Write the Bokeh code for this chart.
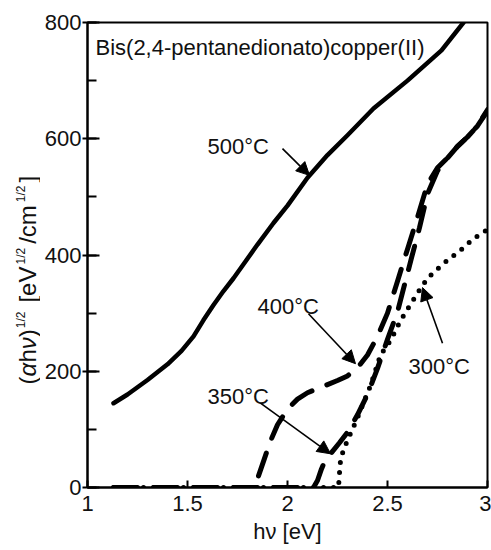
import math
from bokeh.plotting import figure
from bokeh.layouts import row
from bokeh.models import (Label, Arrow, NormalHead, SingleIntervalTicker,
                          FixedTicker, NumeralTickFormatter, Range1d)
from bokeh.embed import file_html
from bokeh.resources import INLINE

# ---------------- data ----------------
hv_500 = [1.13, 1.20, 1.30, 1.40, 1.47, 1.53, 1.58, 1.63, 1.68, 1.73, 1.78,
          1.85, 1.93, 2.00, 2.10, 2.20, 2.30, 2.43, 2.60, 2.77, 2.88]
ah_500 = [145, 160, 185, 212, 235, 260, 288, 314, 338, 360, 384,
          418, 455, 485, 533, 572, 606, 652, 700, 752, 800]

hv_400 = [1.855, 1.88, 1.915, 1.95, 2.00, 2.05, 2.10, 2.15, 2.20, 2.25, 2.30,
          2.35, 2.40, 2.45, 2.50, 2.55, 2.60, 2.65, 2.70, 2.75, 2.80, 2.85,
          2.90, 2.95, 3.00]
ah_400 = [20, 45, 80, 108, 135, 152, 163, 170, 177, 184, 192,
          206, 228, 260, 300, 355, 410, 465, 522, 550, 567, 587,
          603, 622, 650]

hv_350 = [1.13, 2.13, 2.15, 2.17, 2.19, 2.22, 2.26, 2.30, 2.35, 2.40, 2.45,
          2.50, 2.55, 2.58, 2.62, 2.66, 2.70, 2.75, 2.80, 2.85, 2.90, 2.95, 3.00]
ah_350 = [0, 0, 12, 32, 48, 60, 77, 95, 125, 160, 205,
          255, 302, 342, 395, 447, 505, 545, 567, 587, 603, 622, 648]

hv_300 = [1.13, 2.255, 2.26, 2.265, 2.28, 2.30, 2.35, 2.40, 2.415, 2.465, 2.515,
          2.565, 2.615, 2.655, 2.70, 2.75, 2.80, 2.865, 2.93, 3.00]
ah_300 = [0, 0, 25, 46, 65, 81, 120, 163, 175, 228, 253,
          287, 315, 337, 360, 376, 391, 408, 428, 444]

temp_labels = ["500°C", "400°C", "350°C", "300°C"]
label_x = [1.60, 1.85, 1.60, 2.605]
label_y = [587, 311, 157, 208]
arrow_from = [(1.975, 583), (2.105, 299), (1.865, 145), (2.775, 248)]
arrow_to = [(2.11, 537), (2.34, 213), (2.215, 58), (2.675, 344)]

y_ticks_interval = 200
x_ticks = [1, 1.5, 2, 2.5, 3]
title_text = "Bis(2,4-pentanedionato)copper(II)"
x_title = "hν [eV]"

FONT = "Liberation Sans"
TXT = "#111111"

# page geometry (pixels)
STRIP_W = 40          # narrow strip that carries the rotated y title
FR_L, FR_T, FR_R, FR_B = 87, 22, 487, 487
PAGE_W, PAGE_H = 491, 550


def px2x(px):
    return 1 + (px - FR_L) * 2.0 / (FR_R - FR_L)


def px2y(py):
    return (FR_B - py) * 800.0 / (FR_B - FR_T)


p = figure(width=PAGE_W - STRIP_W, height=PAGE_H, x_range=(1, 3), y_range=(0, 800),
           output_backend="svg", toolbar_location=None,
           min_border_left=FR_L - STRIP_W, min_border_right=PAGE_W - FR_R,
           min_border_top=FR_T, min_border_bottom=PAGE_H - FR_B)
p.xgrid.visible = False
p.ygrid.visible = False
p.outline_line_color = "black"
p.outline_line_width = 2
p.outline_line_alpha = 1
p.background_fill_color = None
p.border_fill_color = None

for ax in (p.xaxis[0], p.yaxis[0]):
    ax.level = "overlay"
    ax.axis_line_width = 2
    ax.axis_line_color = "black"
    ax.major_tick_line_width = 2
    ax.major_tick_line_color = "black"
    ax.minor_tick_line_width = 2
    ax.minor_tick_line_color = "black"
    ax.major_label_text_font = FONT
    ax.major_label_text_font_size = "22px"
    ax.major_label_text_color = TXT

p.yaxis.ticker = SingleIntervalTicker(interval=y_ticks_interval, num_minor_ticks=2)
p.yaxis.major_tick_in = 12
p.yaxis.major_tick_out = 5
p.yaxis.minor_tick_in = 9
p.yaxis.minor_tick_out = 0
p.yaxis.major_label_standoff = 1

p.xaxis.ticker = FixedTicker(ticks=x_ticks)
p.xaxis.formatter = NumeralTickFormatter(format="0.[0]")
p.xaxis.major_tick_in = 7
p.xaxis.major_tick_out = 0
p.xaxis.minor_tick_line_color = None
p.xaxis.major_label_standoff = 8
p.xaxis.axis_label = x_title
p.xaxis.axis_label_text_font = FONT
p.xaxis.axis_label_text_font_size = "22px"
p.xaxis.axis_label_text_font_style = "normal"
p.xaxis.axis_label_text_color = TXT
p.xaxis.axis_label_standoff = 5

# curves
p.line(hv_500, ah_500, line_width=4.5, line_color="black", line_join="round",
       line_cap="round")
p.line(hv_400, ah_400, line_width=5, line_color="black", line_dash="24 16",
       line_cap="round", line_join="round")
p.line(hv_350, ah_350, line_width=5, line_color="black", line_dash="24 16",
       line_cap="round", line_join="round")
p.line(hv_300, ah_300, line_width=5, line_color="black", line_dash="0 10",
       line_cap="round", line_join="round")

# temperature labels and arrows
for t, lx, ly in zip(temp_labels, label_x, label_y):
    p.add_layout(Label(x=lx, y=ly, text=t, text_font=FONT, text_font_size="22px",
                       text_color=TXT, text_baseline="alphabetic"))
for (x0, y0), (x1, y1) in zip(arrow_from, arrow_to):
    p.add_layout(Arrow(x_start=x0, y_start=y0, x_end=x1, y_end=y1,
                       line_width=1.6, line_color="black",
                       end=NormalHead(size=13, fill_color="black",
                                      line_color="black", line_width=1)))

# title inside the frame
p.add_layout(Label(x=px2x(95), y=px2y(47), text=title_text, text_font=FONT,
                   text_font_size="22px", text_color=TXT,
                   text_baseline="alphabetic"))

# ---------------- strip with the rotated y-axis title ----------------
# same vertical frame as the main plot, so the same y mapping applies
ys = figure(width=STRIP_W, height=PAGE_H, x_range=Range1d(0, STRIP_W),
            y_range=Range1d(0, 800), output_backend="svg",
            toolbar_location=None, x_axis_type=None, y_axis_type=None,
            min_border_left=0, min_border_right=0,
            min_border_top=FR_T, min_border_bottom=PAGE_H - FR_B)
ys.outline_line_color = None
ys.background_fill_color = None
ys.border_fill_color = None
ys.grid.visible = False

W = {"(": .333, ")": .333, "h": .556, " ": .278, "[": .278, "]": .278, "e": .556,
     "V": .667, "/": .278, "c": .5, "m": .833, "1": .556, "2": .556, "α": .58,
     "ν": .5}


def tw(s, size):
    return sum(W.get(ch, .556) for ch in s) * size


MAIN, SUP = 24, 12
# (text, size, style, superscript?, extra gap after the run in px)
yl_runs = [("(", MAIN, "normal", 0, 0), ("α", MAIN, "italic", 0, 0),
           ("h", MAIN, "normal", 0, 0), ("ν", MAIN, "italic", 0, 0),
           (")", MAIN, "normal", 0, 1), ("1/2", SUP, "normal", 1, 9),
           ("[eV", MAIN, "normal", 0, 2), ("1/2", SUP, "normal", 1, 4),
           ("/cm", MAIN, "normal", 0, 3), ("1/2", SUP, "normal", 1, 3),
           ("]", MAIN, "normal", 0, 0)]
pos = 384                       # pixels from the page top, bottom end of the title
for s, sz, st, sup, gap in yl_runs:
    cx = 20.5 if sup else 27    # centre line of each run (pixels from the left)
    ys.add_layout(Label(x=cx, y=px2y(pos), text=s, text_font=FONT,
                        text_font_size=f"{sz}px", text_font_style=st,
                        text_color=TXT, text_baseline="middle",
                        text_align="left", angle=math.pi / 2))
    pos -= tw(s, sz) + gap

open("out.html", "w").write(file_html(row(ys, p), INLINE))
